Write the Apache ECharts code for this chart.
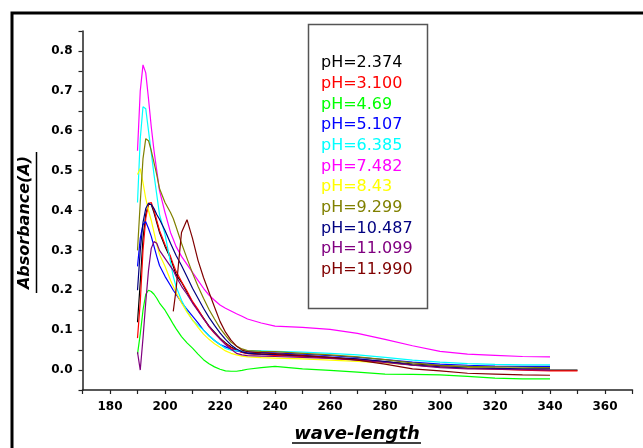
<!DOCTYPE html>
<html>
<head>
<meta charset="utf-8">
<script src="https://cdn.jsdelivr.net/npm/echarts@6/dist/echarts.min.js"></script>
<style>
html,body{margin:0;padding:0;background:#fff;}
#c{width:643px;height:448px;}
</style>
</head>
<body>
<div id="c"></div>
<script>
const wavelength = [190,191,192,193,194,195,196,197,198,200,202,203,204,206,208,210,212,214,216,218,220,222,224,226,228,230,235,240,250,260,270,280,290,300,310,320,330,340,350];

const seriesNames = ['pH=2.374','pH=3.100','pH=4.69','pH=5.107','pH=6.385','pH=7.482','pH=8.43','pH=9.299','pH=10.487','pH=11.099','pH=11.990'];
const seriesColors = ['#000000','#ff0000','#00ff00','#0000ff','#00ffff','#ff00ff','#ffff00','#808000','#000080','#800080','#800000'];

const pH2374 = [0.12,0.22,0.33,0.39,0.415,0.415,0.395,0.37,0.345, 0.31,0.28,0.26,0.24,0.22,0.195,0.17,0.15,0.13,0.11,0.095, 0.08,0.068,0.058,0.05,0.045,0.042, 0.04,0.038,0.035,0.031,0.027,0.021,0.015,0.011,0.007,0.004,0.002,0.0,0.0];
const pH3100 = [0.08,0.17,0.3,0.38,0.418,0.42,0.4,0.375,0.35, 0.315,0.285,0.265,0.248,0.222,0.198,0.172,0.152,0.13,0.108,0.092, 0.078,0.066,0.056,0.049,0.044,0.041, 0.039,0.037,0.034,0.03,0.026,0.02,0.013,0.009,0.005,0.002,0.0,-0.002,-0.002];
const pH469 = [0.04,0.09,0.15,0.19,0.2,0.197,0.19,0.18,0.168, 0.15,0.127,0.115,0.104,0.084,0.068,0.055,0.04,0.026,0.016,0.008, 0.002,-0.002,-0.003,-0.003,-0.001,0.002, 0.006,0.009,0.003,-0.001,-0.005,-0.01,-0.011,-0.012,-0.016,-0.02,-0.022,-0.022,null];
const pH5107 = [0.26,0.33,0.365,0.372,0.355,0.335,0.31,0.285,0.262, 0.235,0.212,0.2,0.19,0.17,0.152,0.135,0.118,0.1,0.086,0.074, 0.064,0.058,0.052,0.048,0.046,0.045, 0.044,0.043,0.04,0.036,0.032,0.026,0.02,0.015,0.012,0.01,0.009,0.009,null];
const pH6385 = [0.42,0.58,0.66,0.655,0.6,0.545,0.49,0.44,0.39, 0.34,0.27,0.235,0.21,0.175,0.148,0.125,0.112,0.1,0.086,0.074, 0.064,0.054,0.05,0.048,0.048,0.048, 0.048,0.047,0.045,0.042,0.038,0.032,0.025,0.02,0.016,0.014,0.013,0.013,null];
const pH7482 = [0.55,0.7,0.765,0.745,0.68,0.61,0.55,0.5,0.45, 0.395,0.345,0.328,0.31,0.285,0.265,0.245,0.225,0.205,0.188,0.175, 0.163,0.155,0.148,0.141,0.135,0.128, 0.118,0.11,0.107,0.102,0.092,0.077,0.061,0.047,0.04,0.037,0.034,0.033,null];
const pH843 = [0.49,0.505,0.47,0.43,0.4,0.375,0.345,0.315,0.29, 0.26,0.225,0.21,0.195,0.168,0.145,0.126,0.107,0.09,0.077,0.066, 0.057,0.048,0.042,0.038,0.035,0.033, 0.031,0.03,0.028,0.025,0.022,0.018,0.013,0.008,0.006,0.005,0.004,0.003,null];
const pH9299 = [0.3,0.42,0.53,0.58,0.575,0.55,0.52,0.49,0.455, 0.42,0.395,0.38,0.36,0.318,0.28,0.243,0.21,0.18,0.152,0.128, 0.105,0.087,0.07,0.06,0.053,0.049, 0.047,0.046,0.042,0.038,0.033,0.026,0.018,0.012,0.009,0.008,0.007,0.006,null];
const pH10487 = [0.2,0.3,0.37,0.405,0.418,0.415,0.405,0.39,0.378, 0.35,0.318,0.303,0.288,0.262,0.234,0.205,0.18,0.155,0.132,0.112, 0.093,0.077,0.063,0.053,0.046,0.042, 0.04,0.039,0.036,0.032,0.028,0.021,0.013,0.008,0.005,0.004,0.003,0.003,null];
const pH11099 = [0.045,0.0,0.08,0.17,0.25,0.305,0.322,0.318,0.3, 0.28,0.26,0.25,0.235,0.21,0.19,0.168,0.148,0.128,0.11,0.093, 0.078,0.064,0.052,0.042,0.038,0.036, 0.035,0.034,0.032,0.029,0.025,0.019,0.012,0.006,0.003,0.002,0.001,0.0,null];
const pH11990 = [null,null,null,null,null,null,null,null,null, null,null,0.147,0.2,0.345,0.377,0.33,0.275,0.232,0.195,0.158, 0.122,0.095,0.075,0.06,0.05,0.046, 0.043,0.041,0.037,0.032,0.025,0.015,0.003,-0.002,-0.008,-0.01,-0.012,-0.013,null];

const seriesValues = [pH2374,pH3100,pH469,pH5107,pH6385,pH7482,pH843,pH9299,pH10487,pH11099,pH11990];

const xTickLabels = [180,200,220,240,260,280,300,320,340,360];
const yTickLabels = [0.0,0.1,0.2,0.3,0.4,0.5,0.6,0.7,0.8];

const chart = echarts.init(document.getElementById('c'), null, {renderer:'canvas'});

const series = seriesNames.map((name, i) => ({
  name: name,
  type: 'line',
  showSymbol: false,
  symbol: 'none',
  smooth: false,
  animation: false,
  lineStyle: {color: seriesColors[i], width: 1.2},
  itemStyle: {color: seriesColors[i]},
  data: wavelength.map((w, j) => [w, seriesValues[i][j]]).filter(p => p[1] !== null)
}));

const labelFont = {fontFamily: 'DejaVu Sans', fontWeight: 'bold', fontSize: 12, color: '#000'};

const option = {
  animation: false,
  backgroundColor: '#fff',
  grid: {left: 82.5, right: 10.5, top: 31, bottom: 58, containLabel: false},
  legend: {
    orient: 'vertical',
    left: 316,
    top: 55,
    padding: 0,
    itemWidth: 0,
    itemHeight: 16,
    itemGap: 4.7,
    icon: 'none',
    selectedMode: false,
    textStyle: {fontFamily: 'DejaVu Sans', fontSize: 16},
    data: seriesNames.map((n, i) => ({name: n, textStyle: {color: seriesColors[i]}}))
  },
  xAxis: {
    type: 'value',
    min: 170, max: 370, interval: 10,
    axisLine: {show: true, onZero: false, lineStyle: {color: '#222', width: 1.5}},
    axisTick: {show: true, length: 4, lineStyle: {color: '#222', width: 1.2}},
    axisLabel: Object.assign({
      margin: 11,
      showMinLabel: true, showMaxLabel: true,
      formatter: v => xTickLabels.indexOf(Math.round(v)) >= 0 ? String(Math.round(v)) : ''
    }, labelFont),
    splitLine: {show: false}
  },
  yAxis: {
    type: 'value',
    min: -0.05, max: 0.85, interval: 0.05,
    axisLine: {show: true, onZero: false, lineStyle: {color: '#222', width: 1.5}},
    axisTick: {show: true, length: 4, lineStyle: {color: '#222', width: 1.2}},
    axisLabel: Object.assign({
      margin: 10,
      formatter: v => {
        const r = Math.round(v * 100) / 100;
        const hit = yTickLabels.find(t => Math.abs(t - r) < 1e-6);
        return hit !== undefined ? hit.toFixed(1) : '';
      }
    }, labelFont),
    splitLine: {show: false}
  },
  graphic: [
    {type: 'rect', silent: true, shape: {x: 12, y: 13, width: 720, height: 520},
     style: {fill: 'none', stroke: '#000', lineWidth: 3}},
    {type: 'rect', silent: true, shape: {x: 308.5, y: 24.5, width: 119, height: 284},
     style: {fill: 'none', stroke: '#555', lineWidth: 1.5}},
    {type: 'text', silent: true, x: 25, y: 222.5, rotation: Math.PI / 2,
     style: {text: 'Absorbance(A)', align: 'center', verticalAlign: 'middle',
             font: 'italic bold 16px "DejaVu Sans"', fill: '#000'}},
    {type: 'line', silent: true, shape: {x1: 36.5, y1: 152, x2: 36.5, y2: 293},
     style: {stroke: '#000', lineWidth: 1.5}},
    {type: 'text', silent: true, x: 357, y: 434.5,
     style: {text: 'wave-length', align: 'center', verticalAlign: 'middle',
             font: 'italic bold 18px "DejaVu Sans"', fill: '#000'}},
    {type: 'line', silent: true, shape: {x1: 292, y1: 443, x2: 421, y2: 443},
     style: {stroke: '#000', lineWidth: 1.5}}
  ],
  series: series
};

chart.setOption(option);
</script>
</body>
</html>
